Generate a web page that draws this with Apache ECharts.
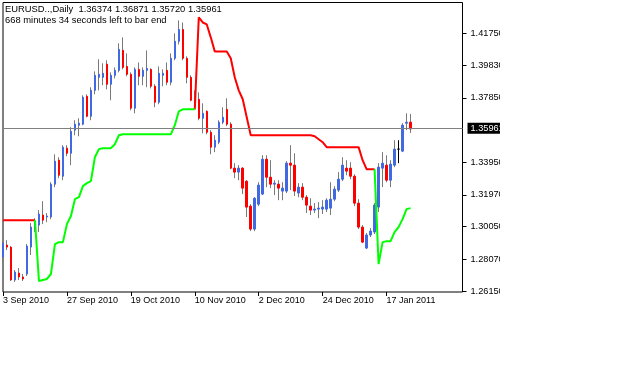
<!DOCTYPE html>
<html><head><meta charset="utf-8">
<script src="https://cdn.jsdelivr.net/npm/echarts@6/dist/echarts.min.js"></script>
<style>html,body{margin:0;padding:0;background:#fff}#c{width:638px;height:388px}</style>
</head><body><div id="c"></div>
<script>
const symbolTitle = "EURUSD..,Daily";
const infoLine = "668 minutes 34 seconds left to bar end";
const priceTicks = [1.2615, 1.2807, 1.3005, 1.3197, 1.3395, 1.3785, 1.3983, 1.4175];
const opens = [1.2821,1.2893,1.2881,1.2682,1.2724,1.2700,1.2718,1.2881,1.2996,1.3014,
1.3075,1.3063,1.3063,1.3262,1.3407,1.3310,1.3480,1.3449,1.3589,1.3619,
1.3625,1.3794,1.3673,1.3830,1.3909,1.3909,1.3988,1.3867,1.3921,1.3951,
1.4072,1.3975,1.3927,1.3722,1.3957,1.3915,1.3951,1.3957,1.3855,1.3758,
1.3921,1.3951,1.3879,1.4024,1.4127,1.4199,1.4024,1.3909,1.3770,1.3776,
1.3661,1.3703,1.3576,1.3486,1.3516,1.3637,1.3715,1.3625,1.3359,1.3335,
1.3359,1.3280,1.3129,1.2990,1.3141,1.3202,1.3413,1.3304,1.3262,1.3262,
1.3220,1.3220,1.3389,1.3377,1.3208,1.3244,1.3183,1.3129,1.3105,1.3111,
1.3111,1.3111,1.3117,1.3171,1.3226,1.3292,1.3359,1.3359,1.3310,1.3147,
1.3002,1.2875,1.2954,1.2972,1.3123,1.3359,1.3377,1.3286,1.3377,1.3474,
1.3462,1.3631,1.36374];
const closes = [1.2905,1.2881,1.2682,1.2730,1.2700,1.2688,1.2887,1.3002,1.3032,1.3081,
1.3044,1.3069,1.3262,1.3401,1.3316,1.3486,1.3449,1.3582,1.3625,1.3631,
1.3788,1.3673,1.3830,1.3921,1.3927,1.3933,1.3867,1.3921,1.3951,1.4078,
1.3969,1.3927,1.3722,1.3957,1.3915,1.3951,1.3963,1.3855,1.3758,1.3933,
1.3933,1.3879,1.4024,1.4127,1.4199,1.4024,1.3909,1.3770,1.3746,1.3661,
1.3691,1.3576,1.3486,1.3528,1.3637,1.3667,1.3625,1.3359,1.3335,1.3359,
1.3238,1.3123,1.2990,1.3177,1.3256,1.3413,1.3304,1.3262,1.3268,1.3238,
1.3238,1.3389,1.3377,1.3220,1.3244,1.3183,1.3135,1.3105,1.3111,1.3117,
1.3123,1.3165,1.3171,1.3232,1.3292,1.3377,1.3341,1.3310,1.3147,1.3002,
1.2911,1.2954,1.2978,1.3135,1.3365,1.3389,1.3286,1.3383,1.3474,1.3474,
1.3619,1.3637,1.35961];
const lows = [1.2796,1.2863,1.2676,1.2670,1.2682,1.2676,1.2706,1.2833,1.2972,1.2972,
1.3020,1.3032,1.3050,1.3244,1.3298,1.3286,1.3431,1.3377,1.3558,1.3552,
1.3619,1.3667,1.3649,1.3806,1.3830,1.3861,1.3836,1.3770,1.3903,1.3939,
1.3957,1.3915,1.3709,1.3691,1.3861,1.3861,1.3849,1.3842,1.3728,1.3746,
1.3855,1.3861,1.3861,1.4012,1.4108,1.4012,1.3873,1.3764,1.3722,1.3649,
1.3570,1.3564,1.3443,1.3456,1.3504,1.3625,1.3613,1.3353,1.3298,1.3286,
1.3202,1.3063,1.2978,1.2978,1.3129,1.3196,1.3244,1.3238,1.3196,1.3165,
1.3165,1.3208,1.3226,1.3190,1.3183,1.3165,1.3087,1.3075,1.3087,1.3056,
1.3081,1.3093,1.3075,1.3159,1.3214,1.3280,1.3316,1.3292,1.3129,1.2990,
1.2905,1.2869,1.2942,1.2960,1.3093,1.3244,1.3274,1.3244,1.3365,1.3389,
1.3456,1.3589,1.35720];
const highs = [1.2917,1.2923,1.2887,1.2742,1.2754,1.2718,1.2899,1.3026,1.3056,1.3105,
1.3159,1.3087,1.3274,1.3443,1.3425,1.3498,1.3498,1.3607,1.3649,1.3661,
1.3800,1.3806,1.3849,1.3945,1.4018,1.3994,1.4012,1.3939,1.3969,1.4115,
1.4151,1.4054,1.3939,1.3969,1.3999,1.3969,1.4072,1.3963,1.3867,1.3975,
1.3957,1.3999,1.4054,1.4175,1.4254,1.4241,1.4036,1.3921,1.3830,1.3818,
1.3752,1.3709,1.3589,1.3558,1.3649,1.3728,1.3782,1.3637,1.3389,1.3377,
1.3365,1.3286,1.3141,1.3183,1.3274,1.3437,1.3437,1.3407,1.3286,1.3286,
1.3274,1.3401,1.3498,1.3449,1.3268,1.3268,1.3196,1.3177,1.3147,1.3153,
1.3165,1.3177,1.3274,1.3250,1.3335,1.3425,1.3407,1.3395,1.3322,1.3171,
1.3014,1.2966,1.2996,1.3147,1.3389,1.3456,1.3437,1.3407,1.3528,1.3528,
1.3631,1.3691,1.36871];
const redStop = [1.3044,1.3044,1.3044,1.3044,1.3044,1.3044,1.3044,1.3044,1.3044,null,
null,null,null,null,null,null,null,null,null,null,
null,null,null,null,null,null,null,null,null,null,
null,null,null,null,null,null,null,null,null,null,
null,null,null,null,null,null,null,null,1.3715,1.4272,
1.4241,1.4229,1.4151,1.4066,1.4066,1.4066,1.4066,1.4024,1.3909,1.3830,
1.3776,1.3667,1.3558,1.3558,1.3558,1.3558,1.3558,1.3558,1.3558,1.3558,
1.3558,1.3558,1.3558,1.3558,1.3558,1.3558,1.3558,1.3558,1.3552,1.3534,
1.3516,1.3486,1.3486,1.3486,1.3486,1.3486,1.3486,1.3486,1.3486,1.3486,
1.3407,1.3353,1.3353,1.3353,null,null,null,null,null,null,
null,null,null];
const greenStop = [null,null,null,null,null,null,null,null,1.3044,1.2676,
1.2682,1.2688,1.2718,1.2899,1.2911,1.2911,1.3020,1.3069,1.3171,1.3183,
1.3250,1.3268,1.3280,1.3425,1.3474,1.3480,1.3480,1.3480,1.3504,1.3558,
1.3564,1.3564,1.3564,1.3564,1.3564,1.3564,1.3564,1.3564,1.3564,1.3564,
1.3564,1.3564,1.3564,1.3619,1.3703,1.3715,1.3715,1.3715,1.3715,null,
null,null,null,null,null,null,null,null,null,null,
null,null,null,null,null,null,null,null,null,null,
null,null,null,null,null,null,null,null,null,null,
null,null,null,null,null,null,null,null,null,null,
null,null,null,1.3353,1.2778,1.2911,1.2917,1.2917,1.2972,1.3002,
1.3050,1.3111,1.3117];

// calendar of trading days (weekdays) for the category axis
const monthNames = ['Jan','Feb','Mar','Apr','May','Jun','Jul','Aug','Sep','Oct','Nov','Dec'];
const dates = [];
{
  const d = new Date(Date.UTC(2010, 8, 3));
  while (dates.length < 116) {
    const wd = d.getUTCDay();
    if (wd !== 0 && wd !== 6) dates.push(d.getUTCDate() + ' ' + monthNames[d.getUTCMonth()] + ' ' + d.getUTCFullYear());
    d.setUTCDate(d.getUTCDate() + 1);
  }
}
const candles = opens.map((o, i) => [o, closes[i], lows[i], highs[i]]);
const bodies = opens.map((o, i) => [o, closes[i], Math.min(o, closes[i]), Math.max(o, closes[i])]);
const last = candles.length - 1;
const fmt = v => v.toFixed(5);
const titleText = symbolTitle + '  ' + fmt(opens[last]) + ' ' + fmt(highs[last]) + ' ' + fmt(lows[last]) + ' ' + fmt(closes[last]) + '\n' + infoLine;
const showIdx = (i) => i % 16 === 0 && i <= 96;
const FONT = 'Liberation Sans';
const BULL = '#4169E1', BEAR = '#FF0000', WICK = '#7a7a7a';

const chart = echarts.init(document.getElementById('c'), null, {renderer: 'canvas'});
chart.setOption({
  animation: false,
  backgroundColor: '#fff',
  textStyle: {fontFamily: FONT},
  title: {
    text: titleText, left: 5, top: 4, padding: 0,
    textStyle: {fontSize: 9.4, fontWeight: 'normal', color: '#000', lineHeight: 11, fontFamily: FONT}
  },
  grid: {left: 2.5, top: 2.5, width: 460, bottom: 96, show: true, borderColor: '#000', borderWidth: 1, backgroundColor: 'transparent'},
  xAxis: {
    type: 'category', data: dates, boundaryGap: false,
    axisLine: {show: false},
    axisTick: {show: true, interval: (i) => showIdx(i), length: 4, lineStyle: {color: '#000'}},
    axisLabel: {interval: (i) => showIdx(i), align: 'left', margin: 4, fontSize: 9, color: '#000', fontFamily: FONT},
    splitLine: {show: false}
  },
  yAxis: {
    type: 'value', position: 'right', min: 1.2609, max: 1.4362, scale: true,
    axisLine: {show: false},
    splitLine: {show: false},
    axisTick: {show: true, customValues: priceTicks, length: 4, lineStyle: {color: '#000'}},
    axisLabel: {customValues: priceTicks, formatter: v => v.toFixed(5), margin: 8, fontSize: 9.2, color: '#000', fontFamily: FONT}
  },
  series: [
    {
      name: 'wicks', type: 'candlestick', data: candles, barWidth: 1, clip: true,
      itemStyle: {color: WICK, color0: WICK, borderColor: WICK, borderColor0: WICK, borderColorDoji: '#000', borderWidth: 1},
      markLine: {
        symbol: 'none', silent: true, animation: false,
        lineStyle: {color: '#808080', width: 1, type: 'solid'},
        label: {position: 'end', distance: 5, formatter: () => fmt(closes[last]), backgroundColor: '#000', color: '#fff', fontSize: 9.2, lineHeight: 9, padding: [1, 3, 1, 3], fontFamily: FONT},
        data: [{yAxis: closes[last]}]
      },
      z: 2
    },
    {
      name: 'bodies', type: 'candlestick', data: bodies, barWidth: 2, clip: true,
      itemStyle: {color: BULL, color0: BEAR, borderColor: BULL, borderColor0: BEAR, borderColorDoji: '#000', borderWidth: 1},
      z: 2
    },
    {type: 'line', data: redStop, symbol: 'none', lineStyle: {color: '#FF0000', width: 2}, connectNulls: false, z: 3},
    {type: 'line', data: greenStop, symbol: 'none', lineStyle: {color: '#00FF00', width: 2}, connectNulls: false, z: 3}
  ],
  graphic: [{type: 'rect', shape: {x: 500, y: 0, width: 138, height: 388}, style: {fill: '#fff'}, z: 100, silent: true}]
});
</script>
</body></html>
